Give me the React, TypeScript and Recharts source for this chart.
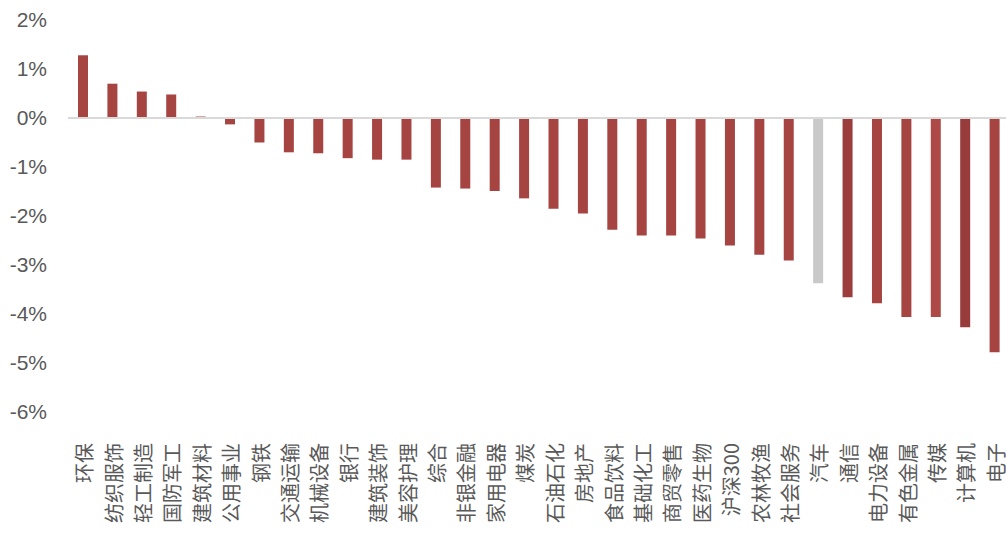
import { BarChart, Bar, XAxis, YAxis, Cell, ReferenceLine } from "recharts";

const categories = [
  "环保", "纺织服饰", "轻工制造", "国防军工", "建筑材料", "公用事业", "钢铁", "交通运输",
  "机械设备", "银行", "建筑装饰", "美容护理", "综合", "非银金融", "家用电器", "煤炭",
  "石油石化", "房地产", "食品饮料", "基础化工", "商贸零售", "医药生物", "沪深300", "农林牧渔",
  "社会服务", "汽车", "通信", "电力设备", "有色金属", "传媒", "计算机", "电子",
];

const changes = [
  1.28, 0.7, 0.54, 0.48, 0.03, -0.13, -0.5, -0.7,
  -0.72, -0.82, -0.85, -0.85, -1.42, -1.44, -1.49, -1.64,
  -1.85, -1.95, -2.28, -2.4, -2.4, -2.46, -2.6, -2.79,
  -2.91, -3.37, -3.66, -3.78, -4.06, -4.06, -4.27, -4.78,
];

const yTicks = [-6, -5, -4, -3, -2, -1, 0, 1, 2];

const data = categories.map((name, i) => ({ name, value: changes[i] }));

const BAR = "#A64442";
const special: Record<string, string> = {
  汽车: "#C9C9C9",
  通信: "#9A3D3C",
  传媒: "#AD4946",
  计算机: "#983C3B",
};

// category labels read bottom-to-top, ending ~31px under the plot
const RotatedTick = (props: any) => {
  const { x, y, payload } = props;
  return (
    <text
      transform={`translate(${x + 1},${y + 31}) rotate(-90)`}
      textAnchor="end"
      dominantBaseline="central"
      fill="#595959"
      fontSize={20}
      fontFamily="'Noto Sans CJK SC', sans-serif"
    >
      {payload.value}
    </text>
  );
};

export default function App() {
  return (
    <div
      style={{
        position: "fixed",
        left: 0,
        top: 0,
        width: 1006,
        height: 537,
        overflow: "hidden",
        background: "#fff",
      }}
    >
      <BarChart
        width={1006}
        height={537}
        data={data}
        margin={{ top: 20, right: -3, bottom: 0, left: 0 }}
        style={{ overflow: "hidden" }}
      >
        <YAxis
          width={68}
          domain={[-6, 2]}
          ticks={yTicks}
          axisLine={false}
          tickLine={false}
          tickSize={0}
          tickMargin={21}
          tickFormatter={(v: number) => `${v}%`}
          tick={{ fill: "#595959", fontSize: 21, fontFamily: "'Liberation Sans', Arial, sans-serif" }}
        />
        <XAxis
          dataKey="name"
          height={125}
          axisLine={false}
          tickLine={false}
          tickSize={0}
          tickMargin={0}
          interval={0}
          tick={<RotatedTick />}
        />
        <ReferenceLine y={0} stroke="#D9D9D9" strokeWidth={2} />
        <Bar dataKey="value" barSize={10} isAnimationActive={false}>
          {data.map((d) => (
            <Cell key={d.name} fill={special[d.name] ?? BAR} />
          ))}
        </Bar>
      </BarChart>
    </div>
  );
}
